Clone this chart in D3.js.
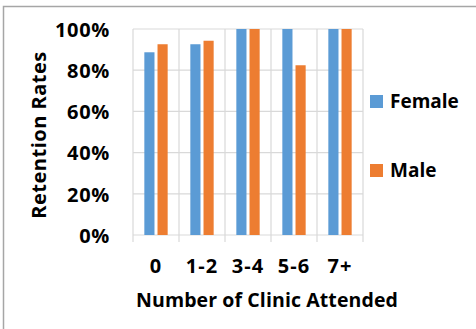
<!DOCTYPE html>
<html>
<head>
<meta charset="utf-8">
<script src="https://cdn.jsdelivr.net/npm/d3@7"></script>
<style>
  html, body { margin: 0; padding: 0; background: #fff; }
  svg { display: block; }
  text { font-family: "Open Sans", sans-serif; font-weight: bold; fill: #000; }
</style>
</head>
<body>
<svg id="chart" width="476" height="329"></svg>
<script>
// Retention rates by number of clinic visits
const categories = ["0", "1-2", "3-4", "5-6", "7+"];
const seriesNames = ["Female", "Male"];
const female = [0.887, 0.926, 1.0, 1.0, 1.0];
const male = [0.926, 0.943, 1.0, 0.824, 1.0];
const yTicks = [0, 0.2, 0.4, 0.6, 0.8, 1.0];
const colors = ["#5B9BD5", "#ED7D31"];

const svg = d3.select("#chart");
const W = 476, H = 329;
const plot = { left: 133, right: 363, top: 29, bottom: 235 };

// outer frame
svg.append("rect")
  .attr("x", 3.5).attr("y", 6.5)
  .attr("width", W + 20).attr("height", H + 20)
  .attr("fill", "none").attr("stroke", "#a6a6a6").attr("stroke-width", 1.5);

const x = d3.scaleBand().domain(categories).range([plot.left, plot.right]);
const xs = d3.scaleBand().domain(seriesNames).range([0, x.bandwidth()])
  .paddingInner(0.23).paddingOuter(0.86);
const y = d3.scaleLinear().domain([0, 1]).range([plot.bottom, plot.top]);

// horizontal gridlines
svg.append("g").selectAll("line").data(yTicks).join("line")
  .attr("x1", plot.left).attr("x2", plot.right)
  .attr("y1", d => y(d)).attr("y2", d => y(d))
  .attr("stroke", "#d9d9d9").attr("stroke-width", 1.2);

// vertical gridlines at category boundaries, extending as tick marks
const bounds = categories.map(c => x(c)).concat([plot.right]);
svg.append("g").selectAll("line").data(bounds).join("line")
  .attr("x1", d => d).attr("x2", d => d)
  .attr("y1", plot.top).attr("y2", plot.bottom + 7)
  .attr("stroke", "#d9d9d9").attr("stroke-width", 1.2);

// bars
const data = categories.map((c, i) => ({ c, vals: [female[i], male[i]] }));
const groups = svg.append("g").selectAll("g").data(data).join("g")
  .attr("transform", d => `translate(${x(d.c)},0)`);
groups.selectAll("rect")
  .data(d => d.vals.map((v, j) => ({ name: seriesNames[j], v, j })))
  .join("rect")
  .attr("x", d => xs(d.name))
  .attr("width", xs.bandwidth())
  .attr("y", d => y(d.v))
  .attr("height", d => y(0) - y(d.v))
  .attr("fill", d => colors[d.j]);

function styleText(sel, size, spacing) {
  sel.attr("font-size", size).attr("font-family", "Open Sans")
    .attr("font-weight", "bold").attr("fill", "#000")
    .attr("letter-spacing", spacing);
}

// y axis labels
const yAxis = d3.axisLeft(y).tickValues(yTicks).tickFormat(d3.format(".0%")).tickSize(0).tickPadding(0);
const yg = svg.append("g").attr("transform", `translate(110,0)`).call(yAxis);
yg.select(".domain").remove();
yg.selectAll("text").call(styleText, 20, 0.7).attr("dy", "0.36em");

// x axis labels
const xAxis = d3.axisBottom(x).tickSize(0).tickPadding(0);
const xg = svg.append("g").attr("transform", `translate(0,${plot.bottom})`).call(xAxis);
xg.select(".domain").remove();
xg.selectAll("text").call(styleText, 20, 1).attr("dy", null).attr("y", 38);

// axis titles
svg.append("text")
  .attr("x", (plot.left + plot.right) / 2 + 19).attr("y", 307)
  .attr("text-anchor", "middle")
  .call(styleText, 19.5, 0.1)
  .text("Number of Clinic Attended");
svg.append("text")
  .attr("transform", `translate(46,135) rotate(-90)`)
  .attr("text-anchor", "middle")
  .call(styleText, 20, 0.5)
  .text("Retention Rates");

// legend
const legend = svg.append("g").selectAll("g").data(seriesNames).join("g")
  .attr("transform", (d, i) => `translate(370,${95 + i * 69})`);
legend.append("rect").attr("width", 13).attr("height", 13).attr("fill", (d, i) => colors[i]);
legend.append("text").attr("x", 20).attr("y", 13).call(styleText, 19, 0).text(d => d);
</script>
</body>
</html>
